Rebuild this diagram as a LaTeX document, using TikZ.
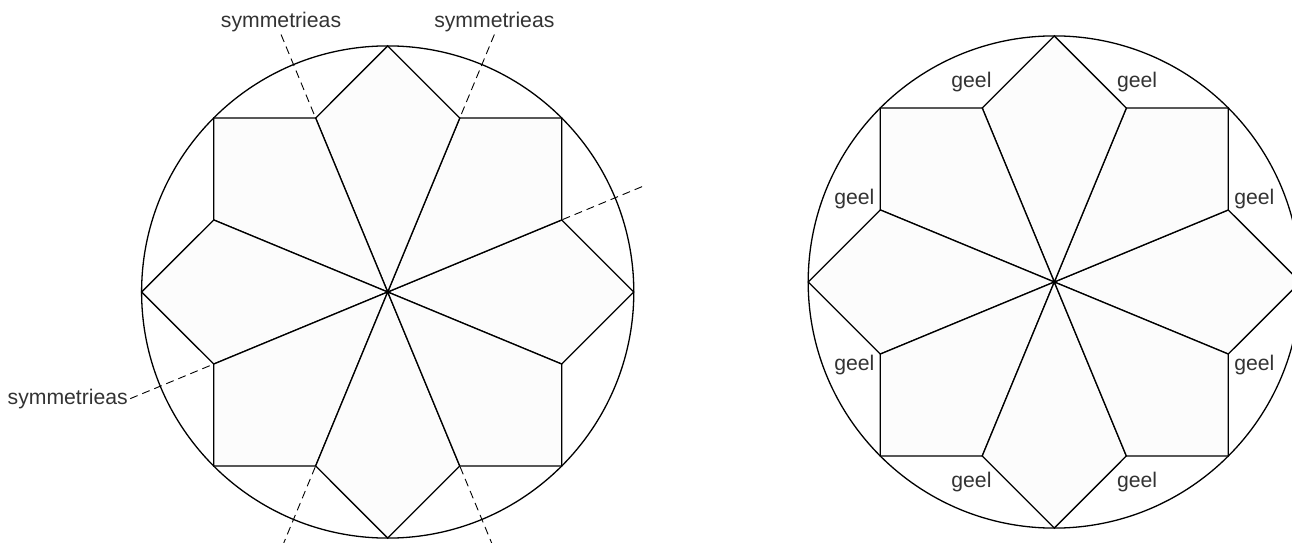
\documentclass[tikz,border=0pt]{standalone}
\usepackage{fontspec}
\setmainfont{Liberation Sans}
\definecolor{kitefill}{HTML}{FCFCFC}
\definecolor{labelgray}{HTML}{333333}
\tikzset{
  kite/.style={draw=black, fill=kitefill, line width=0.65pt, line join=miter},
  rim/.style={draw=black, line width=0.65pt},
  symaxis/.style={draw=black, line width=0.45pt, dash pattern=on 4pt off 2.5pt},
  lbl/.style={text=labelgray, font=\fontsize{10.6}{13}\selectfont, inner sep=1pt}
}
\begin{document}
\begin{tikzpicture}[x=0.5pt,y=0.5pt]
\useasboundingbox (0,0) rectangle (1292,542);
\clip (0,0) rectangle (1292,542);
\coordinate (lc) at (387.7,250);
\coordinate (rc) at (1054.3,260);
\begin{scope}[shift={(lc)}]
\coordinate (ax1a) at (112.5:278.7);
\coordinate (ax1b) at (292.5:278.7);
\coordinate (ax2a) at (67.5:278.7);
\coordinate (ax2b) at (247.5:278.7);
\coordinate (ax3a) at (202.5:278.7);
\coordinate (ax3b) at (22.5:278.7);
\end{scope}
\draw [symaxis] (ax1a) -- (ax1b);
\draw [symaxis] (ax2a) -- (ax2b);
\draw [symaxis] (ax3a) -- (ax3b);
\node [lbl, anchor=south] (symtl) at (ax1a) {symmetrieas};
\node [lbl, anchor=south] (symtr) at (ax2a) {symmetrieas};
\node [lbl, anchor=east] (symlf) at (ax3a) {symmetrieas};
\foreach \c in {lc,rc}{
  \begin{scope}[shift={(\c)}]
    \draw [rim] (0,0) circle [radius=246.1];
    \foreach \a in {0,45,...,315}
      \filldraw [kite] (0,0) -- (\a-22.5:188.3) -- (\a:246.1) -- (\a+22.5:188.3) -- cycle;
  \end{scope}
}
\begin{scope}[shift={(rc)}]
\foreach \a [count=\i] in {22.5,67.5,...,337.5}
  \node [lbl] (geel\i) at (\a:216.5) {geel};
\end{scope}
\end{tikzpicture}
\end{document}
